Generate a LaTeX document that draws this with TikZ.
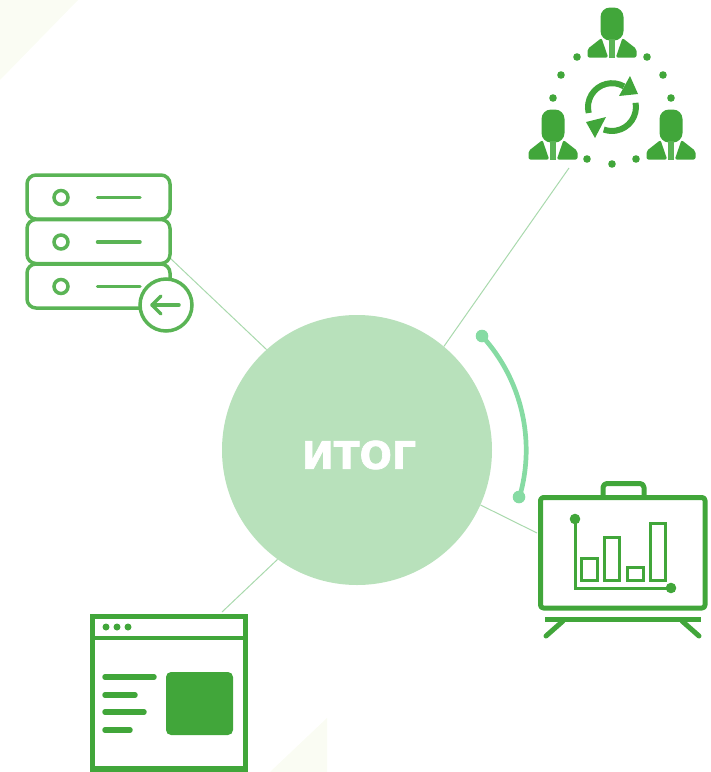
\documentclass[tikz,border=0pt]{standalone}
\usepackage{fontspec}
\newfontfamily\itogfont{DejaVu Sans Bold}[FakeBold=1.8]
\definecolor{icongreen}{HTML}{41A63A}
\definecolor{thingreen}{HTML}{5AB455}
\definecolor{discgreen}{HTML}{B8E1BB}
\definecolor{arcgreen}{HTML}{86DBA3}
\definecolor{linegreen}{HTML}{A9D9AD}
\definecolor{palegreen}{HTML}{FAFCF3}
\tikzset{
    link/.style={draw=linegreen, line width=1pt},
    thinicon/.style={draw=thingreen, line width=3.5pt, line cap=round},
    boldicon/.style={draw=icongreen, line width=5pt, line cap=round, line join=round},
    chartline/.style={draw=icongreen, line width=3pt},
    person/.pic={
        \fill[icongreen, rounded corners=9.5pt] (-11.5, -16.5) rectangle (11.5, 16.5);
        \fill[icongreen, rounded corners=2pt] (-24.5, 33.5) -- (-24.5, 25) -- (-10.5, 14) -- (-3.8, 33.5) -- cycle;
        \fill[icongreen, rounded corners=2pt] (24.5, 33.5) -- (24.5, 25) -- (10.5, 14) -- (3.8, 33.5) -- cycle;
        \fill[thingreen] (-2.6, 33.5) -- (-2.6, 15) -- (2.6, 15) -- (2.6, 33.5) -- cycle;
    }
}

\begin{document}
\begin{tikzpicture}[x=1pt, y=-1pt]
    \useasboundingbox (0, 0) rectangle (711, 772);
    \fill[palegreen] (0, 0) -- (78, 0) -- (0, 80) -- cycle;
    \fill[palegreen] (327, 718) -- (327, 772) -- (270, 772) -- cycle;

    \node[circle, fill=discgreen, minimum size=270pt, inner sep=0pt] (itog) at (357, 450) {};
    \node[text=white, inner sep=0pt] (itoglabel) at (359, 455) {\itogfont\fontsize{38}{38}\selectfont ИТОГ};

    \coordinate (team) at (569, 168);
    \coordinate (server) at (170, 258);
    \coordinate (board) at (537, 533);
    \coordinate (page) at (222, 612);
    \draw[link] (itog.50) -- (team);
    \draw[link] (itog.132) -- (server);
    \draw[link] (itog.-24) -- (board);
    \draw[link] (itog.234) -- (page);

    \coordinate (arcstart) at (482, 336);
    \coordinate (arcend) at (519, 497);
    \draw[arcgreen, line width=4.7pt] (arcstart) arc [start angle=-42.4, end angle=16.2, radius=169];
    \fill[arcgreen] (arcstart) circle [radius=6.3];
    \fill[arcgreen] (arcend) circle [radius=6.3];

    % team
    \pic at (612, 24) {person};
    \pic at (553, 126) {person};
    \pic at (671, 126) {person};
    \foreach \dotx/\doty in {577/57, 647/57, 561/75, 663/75, 553/98, 671/98, 587/159, 612/164, 636/159}
        \fill[icongreen] (\dotx, \doty) circle [radius=3.8];
    \draw[icongreen, line width=6pt] (588.7, 113) arc [start angle=166, end angle=300, radius=24];
    \fill[icongreen] (630, 76) -- (638, 94) -- (619, 96) -- cycle;
    \draw[icongreen, line width=6pt] (635.6, 102.8) arc [start angle=-10, end angle=110, radius=24];
    \fill[icongreen] (586, 122) -- (606, 117) -- (595, 138) -- cycle;

    % server
    \foreach \rowy in {175, 219.5, 264} {
        \draw[thinicon, rounded corners=9pt] (27, \rowy) rectangle (170, \rowy + 44);
        \draw[thinicon] (61, \rowy + 22.5) circle [radius=7];
        \draw[thinicon] (97.5, \rowy + 22.5) -- (140, \rowy + 22.5);
    }
    \node[circle, draw=thingreen, fill=white, line width=3.5pt, minimum size=52pt, inner sep=0pt] (back) at (166, 305) {};
    \draw[thinicon] (179, 305) -- (152, 305);
    \draw[thinicon, line join=round] (161, 296) -- (152, 305) -- (161, 314);

    % board
    \draw[boldicon, rounded corners=3pt] (540.5, 497.5) rectangle (705, 608);
    \draw[boldicon, rounded corners=4pt] (603, 495) -- (603, 483.5) -- (644, 483.5) -- (644, 495);
    \draw[boldicon, line cap=butt] (545, 619.5) -- (701, 619.5);
    \draw[boldicon] (563, 621) -- (546, 636);
    \draw[boldicon] (682, 621) -- (699, 636);
    \draw[chartline] (575, 519) -- (575, 588) -- (671, 588);
    \fill[icongreen] (575, 519) circle [radius=5.3];
    \fill[icongreen] (671, 588) circle [radius=5.3];
    \foreach \barl/\barr/\bart in {581/597/558, 604/619/537, 627/643/567, 650/665/523}
        \draw[chartline] (\barl, 580) rectangle (\barr, \bart);

    % page
    \draw[icongreen, line width=5.5pt] (92.5, 616.5) rectangle (245.5, 769);
    \draw[icongreen, line width=4.5pt] (92.5, 638) -- (245.5, 638);
    \foreach \dotx in {106, 117, 128}
        \fill[icongreen] (\dotx, 627) circle [radius=3.5];
    \foreach \liney/\linex in {677/156, 695/137, 712/146, 730/132}
        \draw[icongreen, line width=5.5pt, line cap=round] (105, \liney) -- (\linex - 2, \liney);
    \fill[icongreen, rounded corners=5pt] (166, 672) rectangle (233, 735);
\end{tikzpicture}
\end{document}
